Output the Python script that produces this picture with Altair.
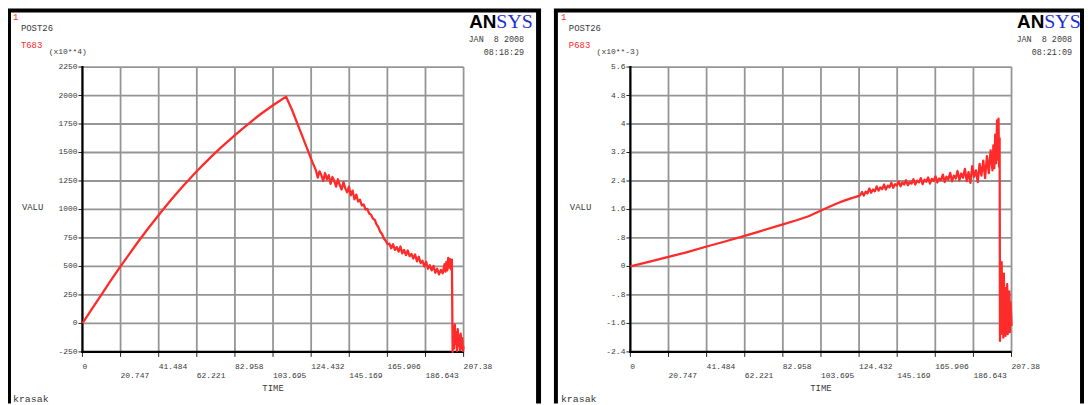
import altair as alt
import pandas as pd

# ---------------- data ----------------
TIME_LABELS = ["0", "20.747", "41.484", "62.221", "82.958", "103.695",
               "124.432", "145.169", "165.906", "186.643", "207.38"]
T683_LABELS = ["-250", "0", "250", "500", "750", "1000", "1250", "1500", "1750", "2000", "2250"]
P683_LABELS = ["-2.4", "-1.6", "-.8", "0", ".8", "1.6", "2.4", "3.2", "4", "4.8", "5.6"]

T683_t = [0, 5, 10, 15, 20.7, 25, 30, 35, 41.5, 45, 50, 55, 62.2, 66, 70, 75, 83, 87, 92, 97, 103.7, 107, 110.8,
          114, 118, 122, 125,
          127, 128, 129, 130, 131, 132, 133, 134, 135, 136, 137, 138, 139, 140, 141, 142, 143, 144, 145, 146,
          147, 148, 149, 150,
          151, 152, 153, 154, 155, 156, 157, 158, 159, 160, 161, 162, 163, 164, 165, 166,
          167, 168, 169, 170, 171, 172, 173, 174, 175, 176, 177, 178, 179, 180, 181, 182, 183, 184, 185, 186,
          187, 188, 189, 190,
          191, 192, 193, 194, 195, 196, 197, 197.5, 198, 198.5, 199, 199.5, 200, 200.5, 201,
          201.4, 201.8, 202.2, 202.6, 203, 203.4, 203.8, 204.2, 204.6, 205, 205.4, 205.8, 206.2, 206.6, 207, 207.38]
T683_v = [0, 123, 245, 366, 500, 598, 710, 818, 952, 1022, 1118, 1210, 1336, 1398, 1462, 1538, 1652, 1708, 1774,
          1838, 1915, 1950, 1990,
          1875, 1710, 1545, 1420,
          1345, 1280, 1335, 1300, 1250, 1320, 1265, 1300, 1225, 1285, 1250, 1200, 1265, 1215, 1175, 1240, 1185,
          1150, 1200, 1125, 1165, 1090, 1130, 1070,
          1085, 1035, 1045, 1000, 1005, 965, 955, 920, 910, 870, 845, 805, 785, 745, 725, 695,
          700, 660, 695, 645, 670, 630, 675, 615, 645, 600, 640, 590, 610, 570, 605, 545, 585, 530, 550, 500,
          540, 480, 510, 465,
          505, 445, 480, 430, 470, 440, 520, 455, 540, 465, 575, 490, 565, 475, 560,
          -250, -60, -220, -10, -180, -80, -240, -50, -200, -110, -235, -90, -220, -130, -240, -200]

P683_t = [0, 10, 20.7, 30, 41.5, 50, 62.2, 70, 83, 90, 97, 103.7, 108, 112, 116, 120, 124.4,
          125, 126, 127, 128, 129, 130, 131, 132, 133, 134,
          135, 136, 137, 138, 139, 140, 141, 142, 143, 144,
          145, 146, 147, 148, 149, 150, 151, 152, 153, 154,
          155, 156, 157, 158, 159, 160, 161, 162, 163, 164,
          165, 166, 167, 168, 169, 170, 171, 172, 173, 174,
          175, 176, 177, 178, 179, 180, 181, 182, 183, 184,
          185, 186, 187, 188, 189, 190, 191, 192, 193,
          194, 195, 196, 197, 197.5, 198, 198.5, 199, 199.5, 200, 200.3, 200.6, 200.9,
          201.1, 201.4, 201.7, 202, 202.3, 202.6, 202.9, 203.2, 203.5, 203.8, 204.1, 204.4, 204.7, 205,
          205.3, 205.6, 205.9, 206.2, 206.5, 206.8, 207.1, 207.38]
P683_v = [0, 0.13, 0.27, 0.39, 0.56, 0.68, 0.86, 0.98, 1.18, 1.29, 1.41, 1.57, 1.67, 1.76, 1.84, 1.91, 1.98,
          2.00, 2.09, 1.99, 2.10, 2.05, 2.19, 2.07, 2.16, 2.11, 2.25,
          2.13, 2.22, 2.17, 2.30, 2.16, 2.27, 2.22, 2.35, 2.21, 2.31,
          2.27, 2.39, 2.25, 2.36, 2.30, 2.42, 2.28, 2.37, 2.33, 2.45,
          2.30, 2.41, 2.36, 2.48, 2.31, 2.44, 2.38, 2.50, 2.33, 2.46,
          2.40, 2.53, 2.36, 2.47, 2.42, 2.58, 2.37, 2.52, 2.44, 2.63,
          2.39, 2.55, 2.47, 2.68, 2.42, 2.61, 2.49, 2.74, 2.40, 2.65,
          2.35, 2.82, 2.52, 2.70, 2.37, 2.88, 2.55, 2.97, 2.48,
          3.10, 2.62, 3.26, 2.70, 3.40, 2.76, 3.70, 2.90, 4.10, 3.00, 4.15, 2.80, 3.60,
          -2.09, -0.6, -1.9, 0.12, -1.5, -0.4, -2.0, -0.2, -1.7, -0.6, -1.95, -0.8, -1.6, -0.5,
          -1.9, -0.9, -1.4, -0.7, -1.85, -1.0, -1.3, -1.67]

assert len(T683_t) == len(T683_v)
assert len(P683_t) == len(P683_v)

# ---------------- styling ----------------
MONO = "Liberation Mono"
RED = "#ff2a2a"
GRID = "#959595"
TXT = "#3a3a3a"
W, H = 1084, 397
one = pd.DataFrame({"k": [0]})
NB = "\u00a0"


def txt(x, y, s, size=9, color=TXT, align="left", font=MONO, weight="normal", baseline="middle"):
    return alt.Chart(one).mark_text(
        align=align, baseline=baseline, font=font, fontSize=size, color=color, fontWeight=weight
    ).encode(x=alt.value(x), y=alt.value(y), text=alt.value(s))


def rule(x, y, x2=None, y2=None, color="black", width=1.0):
    enc = {"x": alt.value(x), "y": alt.value(y)}
    if x2 is not None:
        enc["x2"] = alt.value(x2)
    if y2 is not None:
        enc["y2"] = alt.value(y2)
    return alt.Chart(one).mark_rule(color=color, strokeWidth=width).encode(**enc)


def panel(dx, t, v, ylabels, name, expo, clock):
    x0, x1, ytop, ybot = 75 + dx, 459 + dx, 58, 345
    ydom = [float(ylabels[0]), float(ylabels[-1])]
    X = alt.Scale(domain=[0, 207.38], range=[x0, x1], nice=False, zero=False)
    Y = alt.Scale(domain=ydom, range=[ybot, ytop], nice=False, zero=False)
    xt = pd.DataFrame({"t": [float(s) for s in TIME_LABELS], "lab": TIME_LABELS})
    yt = pd.DataFrame({"v": [float(s) for s in ylabels], "lab": ylabels})
    series = pd.DataFrame({"t": t, "v": v})
    xenc = alt.X("t:Q", scale=X, axis=None)
    yenc = alt.Y("v:Q", scale=Y, axis=None)

    layers = [
        alt.Chart(xt).mark_rule(color=GRID, strokeWidth=1.8).encode(x=xenc, y=alt.value(ytop), y2=alt.value(ybot)),
        alt.Chart(yt).mark_rule(color=GRID, strokeWidth=1.8).encode(y=yenc, x=alt.value(x0), x2=alt.value(x1)),
        alt.Chart(xt).mark_rule(color="#222", strokeWidth=1).encode(x=xenc, y=alt.value(ybot), y2=alt.value(ybot + 5)),
        alt.Chart(yt).mark_rule(color="#222", strokeWidth=1).encode(y=yenc, x=alt.value(x0 - 4), x2=alt.value(x0)),
        rule(x0, ytop - 1, y2=ybot + 1, width=2.2),
        rule(x0 - 1, ybot, x2=x1, width=2.2),
        alt.Chart(xt.iloc[0::2]).mark_text(align="left", baseline="middle", font=MONO, fontSize=8, color=TXT)
        .encode(x=xenc, y=alt.value(360), text="lab:N"),
        alt.Chart(xt.iloc[1::2]).mark_text(align="left", baseline="middle", font=MONO, fontSize=8, color=TXT)
        .encode(x=xenc, y=alt.value(369), text="lab:N"),
        alt.Chart(yt).mark_text(align="right", baseline="middle", font=MONO, fontSize=8, color=TXT)
        .encode(x=alt.value(x0 - 5), y=yenc, text="lab:N"),
        alt.Chart(series).mark_line(color=RED, strokeWidth=2.3, strokeJoin="round").encode(x=xenc, y=yenc),
        txt(5 + dx, 8, "1", color=RED),
        txt(13 + dx, 19, "POST26"),
        txt(13 + dx, 36, name, color=RED),
        txt(41 + dx, 43, expo, size=8),
        txt(14 + dx, 199, "VALU"),
        txt(267 + dx, 381, "TIME", align="center"),
        txt(5 + dx, 392, "krasak", size=10),
        txt(492 + dx, 19, "AN", size=19, color="black", align="right", font="Liberation Sans",
            weight="bold", baseline="alphabetic"),
        txt(492 + dx, 19, "SYS", size=20, color="#1f2fd6", align="left", font="Liberation Serif",
            baseline="alphabetic"),
        txt(520 + dx, 30, "JAN " + NB + "8 2008", size=8.5, align="right"),
        txt(520 + dx, 43, clock, size=8.5, align="right"),
    ]
    return layers


frames = [
    rule(1, 0, y2=H, width=4),
    rule(0, 1, x2=537, width=4),
    rule(534.5, 0, y2=H, width=5),
    rule(552, 0, y2=H, width=4),
    rule(550, 1, x2=W, width=4),
    rule(1082, 0, y2=H, width=4),
]

layers = frames
layers += panel(0, T683_t, T683_v, T683_LABELS, "T683", "(x10**4)", "08:18:29")
layers += panel(552, P683_t, P683_v, P683_LABELS, "P683", "(x10**-3)", "08:21:09")

chart = alt.layer(*layers).resolve_scale(x="independent", y="independent").properties(
    width=W, height=H, autosize=alt.AutoSizeParams(type="none"), padding=0, background="white"
).configure_view(strokeWidth=0)

chart.save("out.html", embed_options={"renderer": "svg", "actions": False})
